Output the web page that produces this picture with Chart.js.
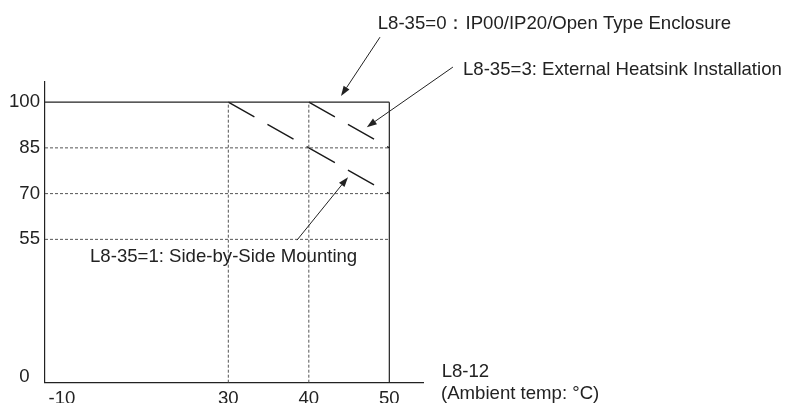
<!DOCTYPE html>
<html>
<head>
<meta charset="utf-8">
<script src="https://cdn.jsdelivr.net/npm/chart.js@4"></script>
<style>
  html, body { margin: 0; padding: 0; background: #fff; overflow: hidden; }
  canvas { display: block; }
</style>
</head>
<body>
<canvas id="deratingChart" width="785" height="403"></canvas>
<script>
// derating curves (ambient temp °C, output %)
const openTypeCurve = [[30, 100], [40, 85]];
const heatsinkCurve = [[40, 100], [50, 85]];
const sideBySideCurve = [[40, 85], [50, 70]];

const xTickLabels = ['-10', '30', '40', '50'];
const yTickLabels = ['0', '55', '70', '85', '100'];
const gridTemps = [30, 40];
const gridLevels = [55, 70, 85];
const frameTemp = 50;
const frameLevel = 100;

// the drawing uses broken axes: -10 and 0 sit just inside the axis corner
const X_MIN = 7.23, X_MAX = 54.22, X_BREAK = 9.34;
const Y_MIN = 8, Y_MAX = 106.6, Y_BREAK = 10;

const FONT = '"Liberation Sans", Arial, Helvetica, sans-serif';
const INK = '#222';

// annotation texts and arrows, in chart units
const notes = [
    { text: 'L8-35=0\uFF1AIP00/IP20/Open Type Enclosure', x: 48.56, y: 125.6 },
    { text: 'L8-35=3: External Heatsink Installation', x: 59.15, y: 110.5 },
    { text: 'L8-35=1: Side-by-Side Mounting', x: 12.82, y: 49.3 },
    { text: 'L8-12', x: 56.5, y: 11.6 },
    { text: '(Ambient temp: \u00B0C)', x: 56.42, y: 4.4 }
];
const arrows = [
    { from: [48.84, 121.3], to: [44.0, 102.0] },
    { from: [57.9, 111.5], to: [47.2, 91.8] },
    { from: [38.53, 54.75], to: [44.87, 75.4] }
];

const toPoints = pairs => pairs.map(([x, y]) => ({ x, y }));

function gridSet(data) {
    return {
        data, borderColor: '#555', borderWidth: 1, borderDash: [3, 2],
        pointRadius: 0, fill: false, tension: 0
    };
}
function solidSet(data) {
    return {
        data, borderColor: INK, borderWidth: 1.2,
        pointRadius: 0, fill: false, tension: 0
    };
}
function curveSet(pairs) {
    return {
        data: toPoints(pairs), borderColor: '#1a1a1a', borderWidth: 1.4,
        borderDash: [30, 15], pointRadius: 0, fill: false, tension: 0
    };
}

const datasets = [];
gridLevels.forEach(lv => datasets.push(gridSet([{ x: X_MIN, y: lv }, { x: frameTemp, y: lv }])));
gridTemps.forEach(t => datasets.push(gridSet([{ x: t, y: Y_MIN }, { x: t, y: frameLevel }])));
datasets.push(solidSet([{ x: X_MIN, y: frameLevel }, { x: frameTemp, y: frameLevel }]));
datasets.push(solidSet([{ x: frameTemp, y: Y_MIN }, { x: frameTemp, y: frameLevel }]));
datasets.push(curveSet(openTypeCurve));
datasets.push(curveSet(heatsinkCurve));
datasets.push(curveSet(sideBySideCurve));

const notesPlugin = {
    id: 'notes',
    afterDraw(chart) {
        const { ctx, scales: { x, y } } = chart;
        ctx.save();
        ctx.fillStyle = INK;
        ctx.font = '18.6px ' + FONT;
        ctx.textAlign = 'left';
        ctx.textBaseline = 'middle';
        notes.forEach(n => ctx.fillText(n.text, x.getPixelForValue(n.x), y.getPixelForValue(n.y)));

        ctx.strokeStyle = INK;
        ctx.lineWidth = 1;
        arrows.forEach(a => {
            const x1 = x.getPixelForValue(a.from[0]), y1 = y.getPixelForValue(a.from[1]);
            const x2 = x.getPixelForValue(a.to[0]), y2 = y.getPixelForValue(a.to[1]);
            const ang = Math.atan2(y2 - y1, x2 - x1);
            const len = 10, half = 3.5;
            const bx = x2 - len * Math.cos(ang), by = y2 - len * Math.sin(ang);
            ctx.beginPath();
            ctx.moveTo(x1, y1);
            ctx.lineTo(bx, by);
            ctx.stroke();
            ctx.beginPath();
            ctx.moveTo(x2, y2);
            ctx.lineTo(bx + half * Math.sin(ang), by - half * Math.cos(ang));
            ctx.lineTo(bx - half * Math.sin(ang), by + half * Math.cos(ang));
            ctx.closePath();
            ctx.fill();
        });
        ctx.restore();
    }
};

new Chart(document.getElementById('deratingChart').getContext('2d'), {
    type: 'line',
    data: { datasets },
    options: {
        responsive: false,
        animation: false,
        events: [],
        layout: { padding: { left: 0, top: 82, right: 361.7, bottom: 0 } },
        plugins: { legend: { display: false }, tooltip: { enabled: false } },
        scales: {
            x: {
                type: 'linear', min: X_MIN, max: X_MAX,
                grid: { display: false, drawTicks: false },
                border: { display: true, color: INK, width: 1.2 },
                afterFit: s => { s.height = 20.3; },
                afterBuildTicks: s => {
                    s.ticks = xTickLabels.map(l => ({ value: Number(l) < gridTemps[0] ? X_BREAK : Number(l) }));
                },
                ticks: {
                    padding: 5, color: INK, font: { size: 18.6, family: FONT },
                    callback: (v, i) => xTickLabels[i]
                }
            },
            y: {
                type: 'linear', min: Y_MIN, max: Y_MAX,
                grid: { display: false, drawTicks: false },
                border: { display: true, color: INK, width: 1.2 },
                afterFit: s => { s.width = 45; },
                afterBuildTicks: s => {
                    s.ticks = yTickLabels.map(l => ({ value: Number(l) < gridLevels[0] ? Y_BREAK : Number(l) }));
                },
                ticks: {
                    padding: 5, color: INK, font: { size: 18.6, family: FONT },
                    callback: (v, i) => (i === 0 ? yTickLabels[i] + '  ' : yTickLabels[i])
                }
            }
        }
    },
    plugins: [notesPlugin]
});
</script>
</body>
</html>
